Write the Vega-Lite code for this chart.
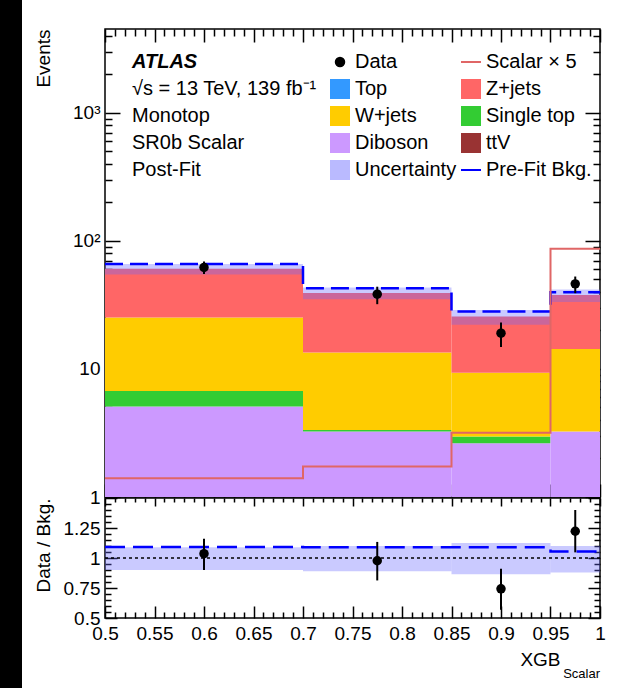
{
  "$schema": "https://vega.github.io/schema/vega-lite/v6.json",
  "background": "white",
  "padding": 0,
  "config": {
    "font": "Liberation Sans",
    "axis": {"grid": false, "domain": false, "ticks": true, "zindex": 2, "tickColor": "black", "tickWidth": 1.5, "labelColor": "black", "titleColor": "black", "labelFont": "Liberation Sans", "titleFont": "Liberation Sans", "labelFontSize": 19, "titleFontSize": 19, "titleFontWeight": "normal", "labelOverlap": false, "labelFlush": false},
    "legend": {"labelFont": "Liberation Sans"}
  },
  "datasets": {
    "stack": [
      {"lo": 0.5, "hi": 0.7, "process": "Diboson", "ylo": 1, "yhi": 5.08},
      {"lo": 0.5, "hi": 0.7, "process": "Single top", "ylo": 5.08, "yhi": 6.73},
      {"lo": 0.5, "hi": 0.7, "process": "W+jets", "ylo": 6.73, "yhi": 25.2},
      {"lo": 0.5, "hi": 0.7, "process": "Z+jets", "ylo": 25.2, "yhi": 60.5},
      {"lo": 0.7, "hi": 0.85, "process": "Diboson", "ylo": 1, "yhi": 3.24},
      {"lo": 0.7, "hi": 0.85, "process": "Single top", "ylo": 3.24, "yhi": 3.34},
      {"lo": 0.7, "hi": 0.85, "process": "W+jets", "ylo": 3.34, "yhi": 13.4},
      {"lo": 0.7, "hi": 0.85, "process": "Z+jets", "ylo": 13.4, "yhi": 39.2},
      {"lo": 0.85, "hi": 0.95, "process": "Diboson", "ylo": 1, "yhi": 2.63},
      {"lo": 0.85, "hi": 0.95, "process": "Single top", "ylo": 2.63, "yhi": 2.96},
      {"lo": 0.85, "hi": 0.95, "process": "W+jets", "ylo": 2.96, "yhi": 9.35},
      {"lo": 0.85, "hi": 0.95, "process": "Z+jets", "ylo": 9.35, "yhi": 25.6},
      {"lo": 0.95, "hi": 1.0, "process": "Diboson", "ylo": 1, "yhi": 3.24},
      {"lo": 0.95, "hi": 1.0, "process": "W+jets", "ylo": 3.24, "yhi": 14.3},
      {"lo": 0.95, "hi": 1.0, "process": "Z+jets", "ylo": 14.3, "yhi": 37.8}
    ],
    "band": [
      {"lo": 0.5, "hi": 0.7, "ulo": 54.5, "uhi": 66.0, "rlo": 0.9, "rhi": 1.09},
      {"lo": 0.7, "hi": 0.85, "ulo": 34.9, "uhi": 43.1, "rlo": 0.89, "rhi": 1.1},
      {"lo": 0.85, "hi": 0.95, "ulo": 22.1, "uhi": 28.8, "rlo": 0.865, "rhi": 1.125},
      {"lo": 0.95, "hi": 1.0, "ulo": 33.3, "uhi": 41.6, "rlo": 0.88, "rhi": 1.1}
    ],
    "prefit": [
      {"x": 0.5, "y": 65.8, "r": 1.092},
      {"x": 0.7, "y": 42.7, "r": 1.09},
      {"x": 0.85, "y": 28.0, "r": 1.09},
      {"x": 0.95, "y": 39.6, "r": 1.055},
      {"x": 1.0, "y": 39.6, "r": 1.055}
    ],
    "signal": [
      {"x": 0.5, "y": 1.4},
      {"x": 0.7, "y": 1.73},
      {"x": 0.85, "y": 3.18},
      {"x": 0.95, "y": 86.6},
      {"x": 1.0, "y": 86.6}
    ],
    "obs": [
      {"x": 0.6, "n": 62, "lo": 55, "hi": 69, "r": 1.036, "rlo": 0.9, "rhi": 1.16},
      {"x": 0.775, "n": 38.3, "lo": 32, "hi": 43.8, "r": 0.977, "rlo": 0.813, "rhi": 1.134},
      {"x": 0.9, "n": 19.0, "lo": 14.8, "hi": 23.0, "r": 0.743, "rlo": 0.568, "rhi": 0.91},
      {"x": 0.975, "n": 46.1, "lo": 39, "hi": 52.6, "r": 1.223, "rlo": 1.047, "rhi": 1.4}
    ]
  },
  "bounds": "flush",
  "spacing": 83,
  "hconcat": [
    {
      "width": 22,
      "height": 688,
      "view": {"fill": "black", "stroke": null},
      "data": {"values": [{}]},
      "mark": {"type": "point", "opacity": 0},
      "encoding": {}
    },
    {
      "bounds": "flush",
      "spacing": 1,
      "vconcat": [
        {
          "width": 495,
          "height": 28,
          "view": {"stroke": null},
          "data": {"values": [{}]},
          "mark": {"type": "point", "opacity": 0},
          "encoding": {}
        },
        {
          "width": 495,
          "height": 468,
          "view": {"stroke": "black", "strokeWidth": 1.5},
          "title": {
            "text": "ATLAS",
            "subtitle": ["√s = 13 TeV, 139 fb⁻¹", "Monotop", "SR0b Scalar", "Post-Fit"],
            "anchor": "start",
            "frame": "group",
            "orient": "top",
            "offset": -152,
            "dx": 27,
            "font": "Liberation Sans",
            "fontSize": 20,
            "fontStyle": "italic",
            "fontWeight": "bold",
            "color": "black",
            "subtitleFont": "Liberation Sans",
            "subtitleFontSize": 20,
            "subtitleLineHeight": 27,
            "subtitlePadding": 7,
            "subtitleColor": "black"
          },
          "layer": [
            {
              "data": {"name": "stack"},
              "mark": {"type": "rect"},
              "encoding": {
                "x": {"field": "lo", "type": "quantitative", "scale": {"domain": [0.5, 1], "nice": false, "zero": false},
                  "axis": {"orient": "bottom", "title": null, "labels": false, "tickSize": 13, "offset": -13,
                    "values": [0.5,0.55,0.6,0.65,0.7,0.75,0.8,0.85,0.9,0.95,1.0]}},
                "x2": {"field": "hi"},
                "y": {"field": "ylo", "type": "quantitative", "scale": {"type": "log", "domain": [1, 4500], "nice": false},
                  "axis": {"orient": "left", "title": "Events", "titleAnchor": "end", "titleX": -67,
                    "values": [1, 10, 100, 1000],
                    "labelExpr": "datum.value === 1 ? '1' : datum.value === 10 ? '10' : datum.value === 100 ? '10²' : '10³'",
                    "labelPadding": 5, "tickSize": 15, "offset": -15}},
                "y2": {"field": "yhi"},
                "color": {"field": "process", "type": "nominal",
                  "scale": {"domain": ["Data", "Scalar × 5", "Top", "Z+jets", "W+jets", "Single top", "Diboson", "ttV", "Uncertainty", "Pre-Fit Bkg."],
                    "range": ["#000000", "#e06666", "#3399ff", "#ff6666", "#ffcc00", "#33cc33", "#cc99ff", "#993333", "#6666ff", "#0000ff"]},
                  "legend": {
                    "orient": "none", "legendX": 330, "legendY": 52, "columns": 2, "direction": "horizontal", "title": null, "padding": 0,
                    "labelFontSize": 20, "labelColor": "black", "labelOffset": 5, "rowPadding": 7, "columnPadding": 0,
                    "symbolSize": 400, "labelLimit": 200,
                    "encode": {"symbols": {"update": {
                      "shape": {"signal": "datum.value === 'Data' ? 'circle' : (datum.value === 'Scalar × 5' || datum.value === 'Pre-Fit Bkg.') ? 'stroke' : 'square'"},
                      "size": {"signal": "datum.value === 'Data' ? 110 : 400"},
                      "fill": {"scale": "color", "field": "value"},
                      "stroke": {"scale": "color", "field": "value"},
                      "strokeWidth": {"signal": "(datum.value === 'Scalar × 5' || datum.value === 'Pre-Fit Bkg.') ? 2 : 0"},
                      "opacity": {"signal": "datum.value === 'Uncertainty' ? 0.45 : 1"},
                      "fillOpacity": {"value": 1},
                      "strokeDash": {"value": []}
                    }}}
                  }
                }
              }
            },
            {
              "data": {"name": "band"},
              "mark": {"type": "rect", "opacity": 0.35},
              "encoding": {
                "x": {"field": "lo", "type": "quantitative",
                  "axis": {"orient": "bottom", "title": null, "labels": false, "tickSize": 7, "offset": -7,
                    "values": [0.51,0.52,0.53,0.54,0.56,0.57,0.58,0.59,0.61,0.62,0.63,0.64,0.66,0.67,0.68,0.69,0.71,0.72,0.73,0.74,0.76,0.77,0.78,0.79,0.81,0.82,0.83,0.84,0.86,0.87,0.88,0.89,0.91,0.92,0.93,0.94,0.96,0.97,0.98,0.99]}},
                "x2": {"field": "hi"},
                "y": {"field": "ulo", "type": "quantitative",
                  "axis": {"orient": "left", "title": null, "labels": false, "tickSize": 7, "offset": -7,
                    "values": [2,3,4,5,6,7,8,9,20,30,40,50,60,70,80,90,200,300,400,500,600,700,800,900,2000,3000,4000]}},
                "y2": {"field": "uhi"},
                "color": {"datum": "Uncertainty"}
              }
            },
            {
              "data": {"name": "prefit"},
              "mark": {"type": "line", "interpolate": "step-after", "strokeDash": [18, 7], "strokeWidth": 2.5},
              "encoding": {
                "x": {"field": "x", "type": "quantitative",
                  "axis": {"orient": "top", "title": null, "labels": false, "tickSize": 13, "offset": -13,
                    "values": [0.5,0.55,0.6,0.65,0.7,0.75,0.8,0.85,0.9,0.95,1.0]}},
                "y": {"field": "y", "type": "quantitative",
                  "axis": {"orient": "right", "title": null, "labels": false, "tickSize": 15, "offset": -15, "values": [1, 10, 100, 1000]}},
                "color": {"datum": "Pre-Fit Bkg."}
              }
            },
            {
              "data": {"name": "signal"},
              "mark": {"type": "line", "interpolate": "step-after", "strokeWidth": 2},
              "encoding": {
                "x": {"field": "x", "type": "quantitative",
                  "axis": {"orient": "top", "title": null, "labels": false, "tickSize": 7, "offset": -7,
                    "values": [0.51,0.52,0.53,0.54,0.56,0.57,0.58,0.59,0.61,0.62,0.63,0.64,0.66,0.67,0.68,0.69,0.71,0.72,0.73,0.74,0.76,0.77,0.78,0.79,0.81,0.82,0.83,0.84,0.86,0.87,0.88,0.89,0.91,0.92,0.93,0.94,0.96,0.97,0.98,0.99]}},
                "y": {"field": "y", "type": "quantitative",
                  "axis": {"orient": "right", "title": null, "labels": false, "tickSize": 7, "offset": -7,
                    "values": [2,3,4,5,6,7,8,9,20,30,40,50,60,70,80,90,200,300,400,500,600,700,800,900,2000,3000,4000]}},
                "color": {"datum": "Scalar × 5"}
              }
            },
            {
              "data": {"name": "obs"},
              "mark": {"type": "rule", "color": "black", "strokeWidth": 2},
              "encoding": {
                "x": {"field": "x", "type": "quantitative", "axis": null},
                "y": {"field": "lo", "type": "quantitative", "axis": null},
                "y2": {"field": "hi"}
              }
            },
            {
              "data": {"name": "obs"},
              "mark": {"type": "point", "filled": true, "size": 90, "opacity": 1},
              "encoding": {
                "x": {"field": "x", "type": "quantitative", "axis": null},
                "y": {"field": "n", "type": "quantitative", "axis": null},
                "color": {"datum": "Data"}
              }
            }
          ],
          "resolve": {"axis": {"x": "independent", "y": "independent"}}
        },
        {
          "width": 495,
          "height": 120,
          "view": {"stroke": "black", "strokeWidth": 1.5},
          "title": {"text": "Scalar", "orient": "bottom", "anchor": "end", "frame": "group", "fontSize": 13, "fontWeight": "normal", "font": "Liberation Sans", "offset": -1, "color": "black"},
          "layer": [
            {
              "data": {"name": "band"},
              "mark": {"type": "rect", "color": "#6666ff", "opacity": 0.35},
              "encoding": {
                "x": {"field": "lo", "type": "quantitative", "scale": {"domain": [0.5, 1], "nice": false, "zero": false},
                  "axis": {"orient": "bottom", "title": "XGB", "titleAlign": "right", "titleX": 455, "titleY": 59, "titleBaseline": "alphabetic",
                    "values": [0.5,0.55,0.6,0.65,0.7,0.75,0.8,0.85,0.9,0.95,1.0], "format": "~g",
                    "labelPadding": 6, "tickSize": 12, "offset": -12}},
                "x2": {"field": "hi"},
                "y": {"field": "rlo", "type": "quantitative", "scale": {"domain": [0.5, 1.5], "nice": false, "zero": false},
                  "axis": {"orient": "left", "title": "Data / Bkg.", "titleAnchor": "end", "titleX": -64,
                    "values": [0.5, 0.75, 1, 1.25, 1.5],
                    "labelExpr": "datum.value === 1.5 ? '' : format(datum.value, '~g')",
                    "labelPadding": 5, "tickSize": 12, "offset": -12}},
                "y2": {"field": "rhi"}
              }
            },
            {
              "data": {"values": [{}]},
              "mark": {"type": "rule", "color": "black", "strokeWidth": 1.5, "strokeDash": [3, 3]},
              "encoding": {"y": {"datum": 1, "type": "quantitative", "axis": null}}
            },
            {
              "data": {"name": "prefit"},
              "mark": {"type": "line", "interpolate": "step-after", "strokeDash": [20, 8], "strokeWidth": 2.5, "color": "#0000ff"},
              "encoding": {
                "x": {"field": "x", "type": "quantitative",
                  "axis": {"orient": "bottom", "title": null, "labels": false, "tickSize": 6, "offset": -6,
                    "values": [0.51,0.52,0.53,0.54,0.56,0.57,0.58,0.59,0.61,0.62,0.63,0.64,0.66,0.67,0.68,0.69,0.71,0.72,0.73,0.74,0.76,0.77,0.78,0.79,0.81,0.82,0.83,0.84,0.86,0.87,0.88,0.89,0.91,0.92,0.93,0.94,0.96,0.97,0.98,0.99]}},
                "y": {"field": "r", "type": "quantitative",
                  "axis": {"orient": "left", "title": null, "labels": false, "tickSize": 6, "offset": -6,
                    "values": [0.55,0.6,0.65,0.7,0.8,0.85,0.9,0.95,1.05,1.1,1.15,1.2,1.3,1.35,1.4,1.45]}}
              }
            },
            {
              "data": {"name": "obs"},
              "mark": {"type": "rule", "color": "black", "strokeWidth": 2},
              "encoding": {
                "x": {"field": "x", "type": "quantitative",
                  "axis": {"orient": "top", "title": null, "labels": false, "tickSize": 8, "offset": -8,
                    "values": [0.5,0.55,0.6,0.65,0.7,0.75,0.8,0.85,0.9,0.95,1.0]}},
                "y": {"field": "rlo", "type": "quantitative",
                  "axis": {"orient": "right", "title": null, "labels": false, "tickSize": 12, "offset": -12, "values": [0.5, 0.75, 1, 1.25, 1.5]}},
                "y2": {"field": "rhi"}
              }
            },
            {
              "data": {"name": "obs"},
              "mark": {"type": "point", "filled": true, "size": 90, "color": "black", "opacity": 1},
              "encoding": {
                "x": {"field": "x", "type": "quantitative",
                  "axis": {"orient": "top", "title": null, "labels": false, "tickSize": 4, "offset": -4,
                    "values": [0.51,0.52,0.53,0.54,0.56,0.57,0.58,0.59,0.61,0.62,0.63,0.64,0.66,0.67,0.68,0.69,0.71,0.72,0.73,0.74,0.76,0.77,0.78,0.79,0.81,0.82,0.83,0.84,0.86,0.87,0.88,0.89,0.91,0.92,0.93,0.94,0.96,0.97,0.98,0.99]}},
                "y": {"field": "r", "type": "quantitative",
                  "axis": {"orient": "right", "title": null, "labels": false, "tickSize": 6, "offset": -6,
                    "values": [0.55,0.6,0.65,0.7,0.8,0.85,0.9,0.95,1.05,1.1,1.15,1.2,1.3,1.35,1.4,1.45]}}
              }
            }
          ],
          "resolve": {"axis": {"x": "independent", "y": "independent"}}
        }
      ]
    }
  ]
}
